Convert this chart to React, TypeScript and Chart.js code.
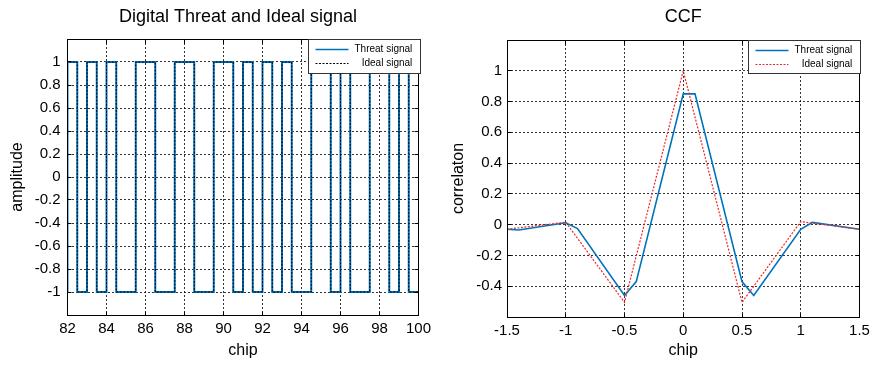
import React, { useEffect, useRef } from 'react';
import { Chart, registerables } from 'chart.js';

Chart.register(...registerables);

// ---------- data: left panel (digital signals, step segments start chips) ----------
const signalChips = [81.5, 82, 82.5, 83, 83.5, 84, 84.5, 85.5, 86.5, 87.5, 88.5, 89.5, 90.5, 91, 91.5, 92, 92.5, 93, 93.5, 94.5, 95.5, 96, 96.5, 97.5, 98.5, 99, 99.5, 100.5];
const threatLevels = [-1, 1, -1, 1, -1, 1, -1, 1, -1, 1, -1, 1, -1, 1, -1, 1, -1, 1, -1, 1, -1, 1, -1, 1, -1, 1, -1, -1];
const idealLevels = [-1, 1, -1, 1, -1, 1, -1, 1, -1, 1, -1, 1, -1, 1, -1, 1, -1, 1, -1, 1, -1, 1, -1, 1, -1, 1, -1, -1];

const leftXTicks = [82, 84, 86, 88, 90, 92, 94, 96, 98, 100];
const leftXTickLabels = ['82', '84', '86', '88', '90', '92', '94', '96', '98', '100'];
const leftYTicks = [-1, -0.8, -0.6, -0.4, -0.2, 0, 0.2, 0.4, 0.6, 0.8, 1];
const leftYTickLabels = ['-1', '-0.8', '-0.6', '-0.4', '-0.2', '0', '0.2', '0.4', '0.6', '0.8', '1'];

// ---------- data: right panel (CCF) ----------
const threatLags = [-1.5, -1.4, -1.0, -0.9, -0.5, -0.4, 0, 0.1, 0.5, 0.6, 1.0, 1.1, 1.5];
const threatCcf = [-0.03, -0.035, 0.012, -0.025, -0.46, -0.37, 0.85, 0.85, -0.37, -0.46, -0.03, 0.015, -0.03];
const idealLags = [-1.5, -1, -0.5, 0, 0.5, 1, 1.5];
const idealCcf = [-0.03, 0.016, -0.505, 1.0, -0.505, 0.02, -0.03];

const rightXTicks = [-1.5, -1, -0.5, 0, 0.5, 1, 1.5];
const rightXTickLabels = ['-1.5', '-1', '-0.5', '0', '0.5', '1', '1.5'];
const rightYTicks = [-0.4, -0.2, 0, 0.2, 0.4, 0.6, 0.8, 1];
const rightYTickLabels = ['-0.4', '-0.2', '0', '0.2', '0.4', '0.6', '0.8', '1'];

const leftTitle = 'Digital Threat and Ideal signal';
const rightTitle = 'CCF';
const legendLabels = ['Threat signal', 'Ideal signal'];

const FONT = '"Liberation Sans", Arial, Helvetica, sans-serif';
const BLUE = '#0072BD';
const RED = 'rgb(238,40,40)';
const GRID = 'rgba(0,0,0,0.8)';

type OverlayOpts = {
  title: string;
  titleShift: number;
  legendLeftOffset: number; // from chartArea.right
  legendRightOffset: number;
  legendHeight: number;
  idealColor: string;
};

function makeOverlay(o: OverlayOpts) {
  return {
    id: 'overlay',
    afterDraw(chart: any) {
      const { ctx, chartArea: a } = chart;
      const L = Math.floor(a.left) + 0.5;
      const R = Math.floor(a.right) + 0.5;
      const T = Math.floor(a.top) + 0.5;
      const B = Math.floor(a.bottom) + 0.5;
      ctx.save();
      ctx.setLineDash([]);
      ctx.strokeStyle = '#000';
      ctx.lineWidth = 1;
      // inward tick marks
      const xs = chart.scales.x;
      const ys = chart.scales.y;
      ctx.beginPath();
      xs.ticks.forEach((t: any) => {
        const px = Math.floor(xs.getPixelForValue(t.value)) + 0.5;
        ctx.moveTo(px, B); ctx.lineTo(px, B - 4);
        ctx.moveTo(px, T); ctx.lineTo(px, T + 4);
      });
      ys.ticks.forEach((t: any) => {
        const py = Math.floor(ys.getPixelForValue(t.value)) + 0.5;
        ctx.moveTo(L, py); ctx.lineTo(L + 4, py);
        ctx.moveTo(R, py); ctx.lineTo(R - 4, py);
      });
      ctx.stroke();
      // box
      ctx.strokeRect(L, T, R - L, B - T);

      // title
      ctx.fillStyle = '#000';
      ctx.font = `18px ${FONT}`;
      ctx.textAlign = 'center';
      ctx.textBaseline = 'middle';
      ctx.fillText(o.title, (a.left + a.right) / 2 + o.titleShift, 17);

      // legend
      const lx1 = Math.floor(a.right - o.legendLeftOffset) + 0.5;
      const lx2 = Math.floor(a.right + o.legendRightOffset) + 0.5;
      const ly1 = T;
      const ly2 = Math.floor(a.top + o.legendHeight) + 0.5;
      ctx.fillStyle = '#fff';
      ctx.fillRect(lx1, ly1, lx2 - lx1, ly2 - ly1);
      ctx.strokeStyle = '#333';
      ctx.strokeRect(lx1, ly1, lx2 - lx1, ly2 - ly1);
      const row1 = Math.round(a.top + 10) + 0.5;
      const row2 = Math.round(a.top + 24) + 0.5;
      // threat sample
      ctx.strokeStyle = BLUE;
      ctx.lineWidth = 1.5;
      ctx.beginPath();
      ctx.moveTo(lx1 + 7, row1); ctx.lineTo(lx1 + 40, row1);
      ctx.stroke();
      // ideal sample
      ctx.strokeStyle = o.idealColor;
      ctx.lineWidth = 1;
      ctx.setLineDash([2, 1.5]);
      ctx.beginPath();
      ctx.moveTo(lx1 + 7, row2); ctx.lineTo(lx1 + 40, row2);
      ctx.stroke();
      ctx.setLineDash([]);
      ctx.fillStyle = '#000';
      ctx.font = `10px ${FONT}`;
      const w = ctx.measureText(legendLabels[0]).width;
      const textEnd = lx1 + 46 + w;
      ctx.textAlign = 'right';
      ctx.textBaseline = 'middle';
      ctx.fillText(legendLabels[0], textEnd, row1);
      ctx.fillText(legendLabels[1], textEnd, row2);
      ctx.restore();
    },
  };
}

function axisCommon(ticksVals: number[], labels: string[], pad: number) {
  return {
    type: 'linear' as const,
    afterBuildTicks: (s: any) => {
      s.ticks = ticksVals.map((v) => ({ value: v }));
    },
    ticks: {
      callback: (_v: any, i: number) => labels[i],
      font: { family: FONT, size: 15 },
      color: '#000',
      padding: pad,
      maxRotation: 0,
      minRotation: 0,
      autoSkip: false,
    },
    grid: { color: GRID, lineWidth: 1, drawTicks: false },
    border: { display: false, dash: [2, 2] },
  };
}

export default function App() {
  const leftRef = useRef<HTMLCanvasElement>(null);
  const rightRef = useRef<HTMLCanvasElement>(null);

  useEffect(() => {
    const left = new Chart(leftRef.current as HTMLCanvasElement, {
      type: 'line',
      data: {
        datasets: [
          {
            label: legendLabels[0],
            data: signalChips.map((x, i) => ({ x, y: threatLevels[i] })),
            stepped: true,
            borderColor: BLUE,
            borderWidth: 2,
            pointRadius: 0,
            fill: false,
            order: 2,
          },
          {
            label: legendLabels[1],
            data: signalChips.map((x, i) => ({ x, y: idealLevels[i] })),
            stepped: true,
            borderColor: '#000',
            borderWidth: 1,
            borderDash: [2, 1.5],
            pointRadius: 0,
            fill: false,
            order: 1,
          },
        ],
      },
      options: {
        animation: false,
        responsive: false,
        layout: { padding: { top: 39, right: 21.5, bottom: 0, left: 0 } },
        plugins: { legend: { display: false }, tooltip: { enabled: false }, title: { display: false } },
        scales: {
          x: {
            ...axisCommon(leftXTicks, leftXTickLabels, 5),
            min: 82,
            max: 100,
            title: { display: true, text: 'chip', color: '#000', font: { family: FONT, size: 16 }, padding: { top: 0, bottom: 8 } },
            afterFit: (s: any) => { s.height = 53; },
          },
          y: {
            ...axisCommon(leftYTicks, leftYTickLabels, 7),
            min: -1.2,
            max: 1.2,
            title: { display: true, text: 'amplitude', color: '#000', font: { family: FONT, size: 16 }, padding: { top: 8, bottom: 0 } },
            afterFit: (s: any) => { s.width = 67.5; },
          },
        },
      } as any,
      plugins: [makeOverlay({ title: leftTitle, titleShift: -5, legendLeftOffset: 110, legendRightOffset: 2, legendHeight: 34, idealColor: '#000' })],
    });

    const right = new Chart(rightRef.current as HTMLCanvasElement, {
      type: 'line',
      data: {
        datasets: [
          {
            label: legendLabels[0],
            data: threatLags.map((x, i) => ({ x, y: threatCcf[i] })),
            borderColor: BLUE,
            borderWidth: 1.6,
            pointRadius: 0,
            tension: 0,
            fill: false,
            order: 2,
          },
          {
            label: legendLabels[1],
            data: idealLags.map((x, i) => ({ x, y: idealCcf[i] })),
            borderColor: RED,
            borderWidth: 1.2,
            borderDash: [2, 1.5],
            pointRadius: 0,
            tension: 0,
            fill: false,
            order: 1,
          },
        ],
      },
      options: {
        animation: false,
        responsive: false,
        layout: { padding: { top: 40, right: 17.5, bottom: 0, left: 0 } },
        plugins: { legend: { display: false }, tooltip: { enabled: false }, title: { display: false } },
        scales: {
          x: {
            ...axisCommon(rightXTicks, rightXTickLabels, 5),
            min: -1.5,
            max: 1.5,
            title: { display: true, text: 'chip', color: '#000', font: { family: FONT, size: 16 }, padding: { top: 0, bottom: 8 } },
            afterFit: (s: any) => { s.height = 51; },
          },
          y: {
            ...axisCommon(rightYTicks, rightYTickLabels, 5),
            min: -0.6,
            max: 1.2,
            title: { display: true, text: 'correlaton', color: '#000', font: { family: FONT, size: 16 }, padding: { top: 9, bottom: 0 } },
            afterFit: (s: any) => { s.width = 67; },
          },
        },
      } as any,
      plugins: [makeOverlay({ title: rightTitle, titleShift: 0, legendLeftOffset: 111, legendRightOffset: 0.5, legendHeight: 33, idealColor: RED })],
    });

    return () => {
      left.destroy();
      right.destroy();
    };
  }, []);

  return (
    <div style={{ position: 'absolute', left: 0, top: 0, width: 877, height: 368, background: '#fff' }}>
      <canvas ref={leftRef} width={440} height={368} style={{ position: 'absolute', left: 0, top: 0 }} />
      <canvas ref={rightRef} width={437} height={368} style={{ position: 'absolute', left: 440, top: 0 }} />
    </div>
  );
}
